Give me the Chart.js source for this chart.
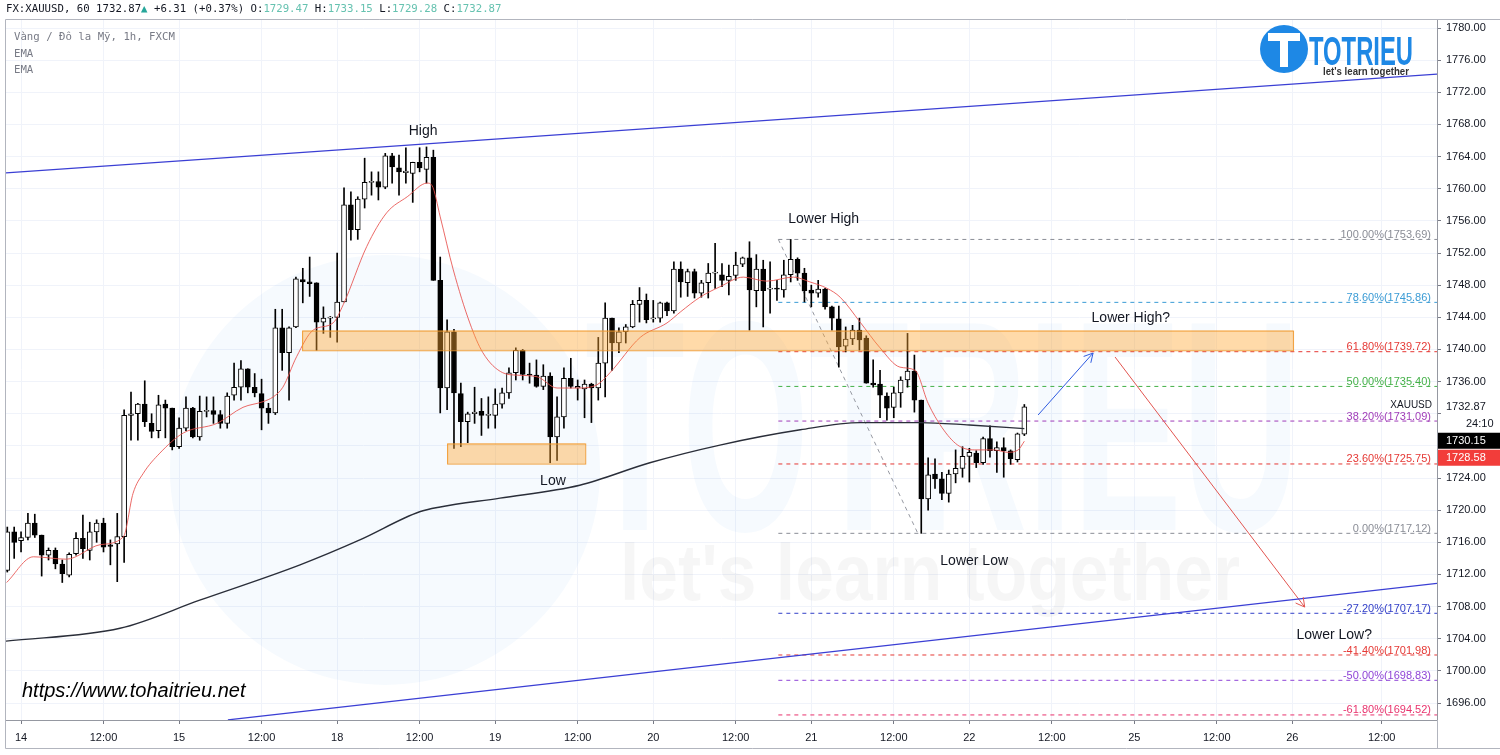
<!DOCTYPE html>
<html>
<head>
<meta charset="utf-8">
<script src="https://cdn.jsdelivr.net/npm/chart.js@4.4.1/dist/chart.umd.min.js"></script>
<style>
  html, body { margin: 0; padding: 0; background: #fff; }
  #wrap { width: 1500px; height: 755px; position: relative; }
</style>
</head>
<body>
<div id="wrap"><canvas id="chart" width="1500" height="755"></canvas></div>
<script>
// Nến giờ XAUUSD (FXCM) – mỗi phần tử là một cây nến, theo thứ tự thời gian
const opens = [
  1712.5,1717.3,1716.2,1716.6,1718.4,1716.9,1714.4,1715.0,1713.3,1711.9,
  1714.6,1716.5,1715.0,1717.3,1718.4,1715.7,1715.8,1716.7,1731.8,1732.0,
  1733.2,1730.8,1729.9,1733.2,1732.7,1727.9,1730.2,1732.7,1729.1,1732.3,
  1732.4,1731.9,1730.8,1734.3,1735.3,1737.6,1735.3,1734.5,1732.7,1732.1,
  1742.7,1739.6,1742.8,1748.7,1748.4,1748.3,1743.4,1743.9,1744.0,1745.9,
  1758.0,1754.9,1758.7,1760.8,1760.9,1760.2,1764.1,1762.6,1762.0,1761.9,
  1763.3,1762.4,1763.9,1748.6,1735.2,1742.2,1734.5,1731.0,1732.0,1732.3,
  1731.8,1731.8,1733.2,1734.6,1737.1,1739.9,1736.9,1736.8,1735.4,1736.7,
  1729.1,1731.6,1736.4,1735.2,1735.1,1735.7,1735.2,1738.3,1743.9,1740.8,
  1742.2,1742.8,1745.6,1746.1,1743.8,1743.9,1745.8,1744.8,1750.0,1748.3,
  1749.7,1747.0,1748.3,1749.5,1749.3,1748.6,1749.2,1750.6,1751.4,1747.3,
  1750.0,1747.5,1747.6,1747.4,1749.3,1751.2,1749.5,1747.4,1747.0,1747.5,
  1745.3,1743.8,1740.4,1741.3,1742.4,1741.4,1735.8,1735.7,1734.2,1732.8,
  1734.6,1736.2,1737.3,1733.7,1721.4,1724.5,1723.9,1722.1,1724.5,1725.2,
  1726.7,1727.1,1725.9,1728.9,1727.4,1727.8,1727.4,1726.3,1729.47
];
const highs = [
  1717.9,1717.9,1717.3,1719.6,1719.5,1716.9,1715.3,1715.3,1713.8,1714.7,
  1717.2,1719.4,1718.5,1718.8,1719.0,1716.3,1719.6,1732.5,1734.7,1733.3,
  1736.1,1732.0,1734.3,1733.7,1732.7,1731.5,1734.1,1732.8,1734.2,1734.1,
  1734.1,1732.4,1734.6,1738.3,1738.6,1737.6,1737.0,1736.3,1733.3,1745.0,
  1745.0,1742.8,1749.0,1750.1,1751.5,1748.3,1745.3,1744.1,1752.0,1760.1,
  1759.6,1759.0,1763.8,1762.1,1762.1,1764.4,1764.4,1764.2,1765.1,1763.3,
  1765.1,1765.2,1764.8,1751.5,1743.7,1742.5,1735.8,1732.2,1735.3,1733.9,
  1734.1,1735.1,1735.2,1737.7,1740.2,1740.0,1738.3,1738.7,1738.1,1737.1,
  1734.1,1737.7,1738.9,1736.2,1736.2,1735.8,1741.5,1745.8,1743.9,1742.7,
  1743.1,1746.1,1747.7,1746.9,1746.1,1745.9,1745.9,1750.9,1750.9,1750.0,
  1750.0,1748.6,1750.7,1753.2,1750.7,1750.5,1752.1,1751.5,1753.4,1751.8,
  1751.1,1750.9,1748.6,1751.1,1753.69,1751.4,1750.1,1748.0,1748.6,1747.6,
  1745.4,1745.4,1742.8,1743.0,1743.9,1741.7,1738.7,1737.4,1734.6,1735.3,
  1736.6,1742.0,1739.3,1733.7,1726.5,1726.4,1724.7,1725.0,1727.5,1727.9,
  1727.7,1727.4,1729.1,1730.5,1728.5,1729.0,1727.5,1729.6,1733.15
];
const lows = [
  1712.3,1714.0,1714.8,1716.3,1716.6,1711.8,1713.8,1712.7,1711.0,1711.7,
  1714.4,1714.0,1713.8,1716.0,1714.8,1713.2,1711.1,1713.5,1728.7,1728.7,
  1730.4,1729.0,1729.0,1729.0,1727.5,1727.7,1729.9,1729.0,1728.7,1731.6,
  1730.8,1730.2,1730.2,1733.7,1733.7,1734.6,1734.1,1730.0,1730.8,1731.9,
  1737.4,1733.7,1742.7,1745.8,1746.6,1739.9,1742.0,1741.5,1740.9,1745.9,
  1753.6,1753.7,1757.6,1759.2,1758.6,1760.0,1760.7,1759.2,1760.7,1758.3,
  1762.1,1760.7,1748.6,1732.1,1732.5,1727.7,1727.9,1728.4,1730.8,1729.3,
  1730.2,1730.2,1732.7,1733.9,1736.2,1736.2,1735.8,1735.3,1735.0,1725.9,
  1726.2,1730.2,1735.2,1733.7,1731.5,1730.9,1733.7,1734.1,1737.4,1739.6,
  1740.8,1742.7,1743.4,1743.3,1743.4,1743.4,1744.2,1744.5,1746.5,1746.6,
  1746.4,1746.5,1746.4,1747.6,1747.8,1746.8,1748.6,1750.3,1742.4,1745.3,
  1742.8,1744.5,1746.1,1746.5,1748.4,1748.6,1745.9,1745.3,1746.5,1745.0,
  1742.4,1737.8,1739.7,1740.6,1739.9,1735.8,1735.3,1731.5,1731.2,1731.5,
  1732.8,1735.3,1732.2,1717.12,1720.0,1722.7,1721.3,1721.0,1723.4,1724.1,
  1723.5,1725.3,1725.7,1726.6,1724.7,1724.1,1725.7,1726.0,1729.28
];
const closes = [
  1717.3,1716.0,1716.6,1718.4,1716.9,1714.4,1715.0,1713.3,1712.1,1714.5,
  1716.5,1715.2,1717.3,1718.4,1715.4,1715.5,1716.7,1731.8,1732.0,1733.2,
  1731.0,1729.8,1733.1,1732.7,1727.9,1730.2,1732.7,1729.1,1732.3,1732.4,
  1731.9,1730.8,1734.2,1735.3,1737.6,1735.3,1734.6,1732.7,1732.1,1742.7,
  1739.6,1742.7,1748.8,1748.4,1748.2,1743.4,1743.9,1744.0,1745.9,1758.0,
  1754.9,1758.7,1760.8,1760.9,1760.2,1764.1,1762.7,1762.1,1762.2,1763.3,
  1762.6,1763.9,1748.6,1735.2,1742.2,1734.6,1731.0,1732.0,1732.2,1731.8,
  1731.9,1733.2,1734.6,1737.1,1739.9,1736.9,1736.8,1735.4,1736.7,1729.1,
  1731.6,1736.4,1735.4,1735.4,1735.7,1735.2,1738.3,1743.9,1740.8,1742.2,
  1742.8,1745.6,1746.1,1743.7,1743.9,1745.8,1744.8,1750.0,1748.4,1749.7,
  1747.0,1748.3,1749.5,1749.6,1748.6,1749.1,1750.5,1751.4,1747.4,1750.0,
  1747.3,1747.6,1747.5,1749.3,1751.2,1749.5,1747.3,1747.0,1747.5,1745.3,
  1743.9,1740.3,1741.3,1742.4,1741.2,1735.8,1735.6,1734.3,1732.7,1734.6,
  1736.2,1737.3,1733.7,1721.4,1724.4,1723.9,1722.1,1724.5,1725.2,1726.7,
  1727.2,1725.9,1728.9,1727.4,1727.8,1727.4,1726.4,1729.5,1732.87
];

// Đường EMA nhanh (đỏ) và EMA chậm (đen): [chỉ số nến, giá]
const emaFast = [
  [-0.1,1711.0],[3.8,1714.2],[8.6,1713.9],[13.5,1715.7],[16.9,1716.7],[18.3,1722.1],
  [19.8,1724.6],[22.2,1727.1],[25.6,1729.6],[30.5,1730.8],[34.3,1732.8],[37.2,1733.5],
  [38.7,1734.1],[40.1,1735.3],[42.1,1739.1],[44.5,1742.4],[47.4,1743.3],[48.9,1745.6],
  [52.3,1752.8],[55.2,1757.0],[58.2,1759.0],[61.1,1760.7],[61.8,1760.4],[63,1756.5],
  [64.9,1749.9],[67.3,1743.3],[69.2,1739.6],[72.1,1737.1],[74.2,1736.8],[77.1,1736.6],
  [80,1735.2],[82.9,1735.2],[85.8,1735.6],[87.7,1737.1],[92.1,1741.5],[96,1743.3],
  [98,1744.7],[100.8,1746.5],[103.7,1747.8],[107.1,1749.0],[110.5,1748.5],[114.4,1749.0],
  [116.8,1748.4],[119.3,1747.6],[121.2,1746.5],[124.1,1743.4],[127,1740.2],[129.9,1737.8],
  [132.1,1737.4],[134,1733.3],[136,1730.3],[138.3,1728.1],[140.7,1727.5],[143.6,1727.5],
  [145.6,1727.2],[147.1,1727.5],[148,1728.58]
];
const emaSlow = [
  [-0.2,1703.7],[16.4,1705.3],[28,1708.8],[42.6,1713.2],[51.3,1716.3],[60,1719.8],
  [63,1720.4],[71.7,1721.5],[83.3,1723.1],[93.5,1725.9],[103.7,1728.1],[115.4,1730.0],
  [124.1,1730.9],[132.8,1730.9],[140,1730.6],[148,1730.15]
];

// Trục
const xMin = -0.19, xMax = 208.05;
const yMin = 1693.89, yMax = 1781.12;
const xTickPos = [2, 14, 25, 37, 48, 60, 71, 83, 94, 106, 117, 129, 140, 152, 164, 176, 187, 200];
const xTickLabels = ['14','12:00','15','12:00','18','12:00','19','12:00','20','12:00','21','12:00','22','12:00','25','12:00','26','12:00'];
const yTicks = [];
for (let v = 1696; v <= 1780; v += 4) yTicks.push(v);

// Fibonacci
const fibPct = ['100.00%','78.60%','61.80%','50.00%','38.20%','23.60%','0.00%','-27.20%','-41.40%','-50.00%','-61.80%'];
const fibVal = [1753.69,1745.86,1739.72,1735.40,1731.09,1725.75,1717.12,1707.17,1701.98,1698.83,1694.52];
const fibColor = ['#8a8d96','#3a9bd5','#e53935','#43b047','#a03cb8','#e53935','#8a8d96','#3340c8','#e53935','#8e44d6','#e8336d'];
const fibStart = 112.2;
const fibAnchor = [[112.2,1753.69],[132.5,1717.12]];

// Kênh giá, vùng hỗ trợ/kháng cự, mũi tên, ghi chú
const channelUpper = [[-0.19,1761.96],[208.05,1774.27]];
const channelLower = [[32.1,1693.9],[208.05,1710.9]];
const zones = [
  { x0: 42.9, x1: 187.1, y0: 1739.9, y1: 1742.35 },
  { x0: 64.0, x1: 84.1, y0: 1725.8, y1: 1728.3 }
];
const arrows = [
  { pts: [[150,1731.84],[158,1739.55]], color: '#2f5be0' },
  { pts: [[161.2,1739.06],[188.8,1707.94]], color: '#e25550' }
];
const notes = [
  { text: 'High', x: 60.5, y: 1767.2 },
  { text: 'Low', x: 79.4, y: 1723.6 },
  { text: 'Lower High', x: 118.8, y: 1756.2 },
  { text: 'Lower Low', x: 140.7, y: 1713.7 },
  { text: 'Lower High?', x: 163.5, y: 1743.9 },
  { text: 'Lower Low?', x: 193.1, y: 1704.5 }
];

const toPts = arr => arr.map(p => ({ x: p[0], y: p[1] }));

// Vẽ nến bằng floating bar: một dataset cho râu, một cho thân
const wickData = opens.map((o, i) => ({ x: i, y: [lows[i], highs[i]] }));
const bodyData = opens.map((o, i) => ({ x: i, y: [o, closes[i]] }));
const bodyColors = opens.map((o, i) => closes[i] >= o ? '#ffffff' : '#000000');

const datasets = [];
fibVal.forEach((v, k) => {
  datasets.push({
    type: 'line', data: [{ x: fibStart, y: v }, { x: xMax, y: v }],
    borderColor: fibColor[k], borderWidth: 1, borderDash: [4, 4], pointRadius: 0, order: 6
  });
});
datasets.push({ type: 'line', data: toPts(fibAnchor), borderColor: '#9598a1', borderWidth: 1, borderDash: [4, 4], pointRadius: 0, order: 6 });
datasets.push({ type: 'bar', data: wickData, backgroundColor: '#000', barThickness: 1, grouped: false, order: 5 });
datasets.push({
  type: 'bar', data: bodyData, backgroundColor: bodyColors, borderColor: '#000', borderWidth: 1,
  borderSkipped: false, barThickness: 5, minBarLength: 1, grouped: false, order: 4
});
datasets.push({ type: 'line', data: toPts(emaSlow), borderColor: '#2a2e39', borderWidth: 1.4, pointRadius: 0, cubicInterpolationMode: 'monotone', order: 3 });
datasets.push({ type: 'line', data: toPts(emaFast), borderColor: 'rgba(232,80,76,0.85)', borderWidth: 1, pointRadius: 0, cubicInterpolationMode: 'monotone', order: 2 });
datasets.push({ type: 'line', data: toPts(channelUpper), borderColor: '#3b3fd4', borderWidth: 1.2, pointRadius: 0, order: 1 });
datasets.push({ type: 'line', data: toPts(channelLower), borderColor: '#3b3fd4', borderWidth: 1.2, pointRadius: 0, order: 1 });
arrows.forEach(a => {
  datasets.push({ type: 'line', data: toPts(a.pts), borderColor: a.color, borderWidth: 1, pointRadius: 0, order: 1 });
});

const SANS = '"Liberation Sans", Arial, sans-serif';
const MONO = '"DejaVu Sans Mono", monospace';

// Plugin vẽ phần trang trí: watermark, vùng cam, nhãn fib, chữ, header
const overlay = {
  id: 'overlay',
  beforeDatasetsDraw(chart) {
    const { ctx, chartArea: a } = chart;
    ctx.save();
    ctx.beginPath(); ctx.rect(a.left, a.top, a.width, a.height); ctx.clip();
    ctx.fillStyle = 'rgba(33,130,225,0.04)';
    ctx.beginPath(); ctx.arc(385, 470, 215, 0, Math.PI * 2); ctx.fill();
    ctx.font = 'bold 300px ' + SANS;
    ctx.textBaseline = 'alphabetic';
    let w = ctx.measureText('TOTRIEU').width;
    ctx.save(); ctx.translate(585, 530); ctx.scale(715 / w, 1);
    ctx.fillText('TOTRIEU', 0, 0); ctx.restore();
    ctx.fillStyle = 'rgba(0,0,0,0.035)';
    ctx.font = 'bold 80px ' + SANS;
    w = ctx.measureText("let's learn together").width;
    ctx.save(); ctx.translate(620, 600); ctx.scale(620 / w, 1);
    ctx.fillText("let's learn together", 0, 0); ctx.restore();
    ctx.restore();
  },
  afterDatasetsDraw(chart) {
    const { ctx, chartArea: a, scales: { x, y } } = chart;
    ctx.save();
    ctx.beginPath(); ctx.rect(a.left, a.top, a.width, a.height); ctx.clip();
    zones.forEach(z => {
      const x0 = x.getPixelForValue(z.x0), x1 = x.getPixelForValue(z.x1);
      const y0 = y.getPixelForValue(z.y1), y1 = y.getPixelForValue(z.y0);
      ctx.fillStyle = 'rgba(255,168,50,0.42)';
      ctx.fillRect(x0, y0, x1 - x0, y1 - y0);
      ctx.strokeStyle = 'rgba(240,150,40,0.9)';
      ctx.lineWidth = 1;
      ctx.strokeRect(x0 + 0.5, y0 + 0.5, x1 - x0, y1 - y0);
    });
    // nhãn fib
    ctx.font = '11px ' + SANS;
    ctx.textAlign = 'right';
    ctx.textBaseline = 'bottom';
    fibVal.forEach((v, k) => {
      ctx.fillStyle = fibColor[k];
      ctx.fillText(fibPct[k] + '(' + v.toFixed(2) + ')', a.right - 6, y.getPixelForValue(v) + 1);
    });
    // đầu mũi tên
    arrows.forEach(ar => {
      const p0 = ar.pts[ar.pts.length - 2], p1 = ar.pts[ar.pts.length - 1];
      const xa = x.getPixelForValue(p0[0]), ya = y.getPixelForValue(p0[1]);
      const xb = x.getPixelForValue(p1[0]), yb = y.getPixelForValue(p1[1]);
      const ang = Math.atan2(yb - ya, xb - xa);
      ctx.strokeStyle = ar.color; ctx.lineWidth = 1;
      ctx.beginPath();
      ctx.moveTo(xb - 10 * Math.cos(ang - 0.5), yb - 10 * Math.sin(ang - 0.5));
      ctx.lineTo(xb, yb);
      ctx.lineTo(xb - 10 * Math.cos(ang + 0.5), yb - 10 * Math.sin(ang + 0.5));
      ctx.stroke();
    });
    // ghi chú
    ctx.font = '14px ' + SANS;
    ctx.fillStyle = '#131722';
    ctx.textAlign = 'center';
    ctx.textBaseline = 'middle';
    notes.forEach(n => ctx.fillText(n.text, x.getPixelForValue(n.x), y.getPixelForValue(n.y)));
    // url
    ctx.font = 'italic 20px ' + SANS;
    ctx.textAlign = 'left';
    ctx.fillStyle = '#000';
    ctx.fillText('https://www.tohaitrieu.net', 22, 691);
    // legend
    ctx.font = '10.7px ' + MONO;
    ctx.fillStyle = '#787b86';
    ctx.fillText('Vàng / Đô la Mỹ, 1h, FXCM', 14, 37);
    ctx.fillText('EMA', 14, 54);
    ctx.fillText('EMA', 14, 70);
    // logo góc phải
    ctx.fillStyle = '#1e88e5';
    ctx.beginPath(); ctx.arc(1284, 49, 24, 0, Math.PI * 2); ctx.fill();
    ctx.fillStyle = '#fff';
    ctx.fillRect(1268, 33, 32, 8);
    ctx.fillRect(1280, 33, 8, 34);
    ctx.fillStyle = '#1e88e5';
    ctx.font = 'bold 40px ' + SANS;
    ctx.textBaseline = 'alphabetic';
    let w = ctx.measureText('TOTRIEU').width;
    ctx.save(); ctx.translate(1309, 65); ctx.scale(104 / w, 1); ctx.fillText('TOTRIEU', 0, 0); ctx.restore();
    ctx.fillStyle = '#333';
    ctx.font = 'bold 11px ' + SANS;
    w = ctx.measureText("let's learn together").width;
    ctx.save(); ctx.translate(1323, 75); ctx.scale(86 / w, 1); ctx.fillText("let's learn together", 0, 0); ctx.restore();
    ctx.restore();
  },
  afterDraw(chart) {
    const { ctx, chartArea: a, scales: { y } } = chart;
    ctx.save();
    // khung
    ctx.strokeStyle = '#b2b5be'; ctx.lineWidth = 1;
    ctx.beginPath();
    ctx.moveTo(5.5, 19.5); ctx.lineTo(1500, 19.5);
    ctx.moveTo(5.5, 19.5); ctx.lineTo(5.5, 748.5); ctx.lineTo(1500, 748.5);
    ctx.moveTo(a.right + 0.5, a.bottom); ctx.lineTo(a.right + 0.5, 748.5);
    ctx.stroke();
    // header
    ctx.font = '10.7px ' + MONO;
    ctx.textBaseline = 'middle';
    ctx.textAlign = 'left';
    const parts = [
      ['FX:XAUUSD, 60 1732.87', '#131722'], ['▲', '#26a69a'], [' +6.31 (+0.37%) O:', '#131722'],
      ['1729.47', '#66c2b0'], [' H:', '#131722'], ['1733.15', '#66c2b0'], [' L:', '#131722'],
      ['1729.28', '#66c2b0'], [' C:', '#131722'], ['1732.87', '#66c2b0']
    ];
    let cx = 6;
    parts.forEach(p => { ctx.fillStyle = p[1]; ctx.fillText(p[0], cx, 9); cx += ctx.measureText(p[0]).width; });
    // nhãn trên trục giá
    const yLast = y.getPixelForValue(closes[closes.length - 1]);
    ctx.font = '11px ' + SANS;
    ctx.fillStyle = '#131722';
    ctx.fillText(closes[closes.length - 1].toFixed(2), 1446, yLast);
    ctx.fillText('24:10', 1466, yLast + 17);
    ctx.font = '10px ' + SANS;
    ctx.textAlign = 'right';
    ctx.fillText('XAUUSD', 1432, yLast - 1);
    ctx.textAlign = 'left';
    ctx.font = '11px ' + SANS;
    ctx.fillStyle = '#000';
    ctx.fillRect(a.right + 1, yLast + 26, 62, 16);
    ctx.fillStyle = '#fff';
    ctx.fillText(emaSlow[emaSlow.length - 1][1].toFixed(2), 1446, yLast + 34);
    ctx.fillStyle = '#f23d3a';
    ctx.fillRect(a.right + 1, yLast + 43, 62, 16);
    ctx.fillStyle = '#fff';
    ctx.fillText(emaFast[emaFast.length - 1][1].toFixed(2), 1446, yLast + 51);
    ctx.restore();
  }
};

new Chart(document.getElementById('chart'), {
  type: 'bar',
  data: { datasets },
  plugins: [overlay],
  options: {
    responsive: false,
    animation: false,
    devicePixelRatio: 1,
    layout: { padding: { left: 6, top: 19, right: 0, bottom: 0 } },
    plugins: { legend: { display: false }, tooltip: { enabled: false } },
    scales: {
      x: {
        type: 'linear', min: xMin, max: xMax, offset: false,
        afterBuildTicks: s => { s.ticks = xTickPos.map(v => ({ value: v })); },
        afterFit: s => { s.height = 35; },
        grid: { color: '#f0f3fa', offset: false, tickLength: 4, tickColor: '#787b86' },
        border: { color: '#9598a1' },
        ticks: {
          autoSkip: false, maxRotation: 0, padding: 7,
          color: '#131722', font: { size: 11, family: SANS },
          callback: v => xTickLabels[xTickPos.indexOf(v)]
        }
      },
      y: {
        type: 'linear', position: 'right', min: yMin, max: yMax,
        afterBuildTicks: s => { s.ticks = yTicks.map(v => ({ value: v })); },
        afterFit: s => { s.width = 63; },
        grid: { color: '#f0f3fa', tickLength: 4, tickColor: '#787b86' },
        border: { color: '#9598a1' },
        ticks: {
          padding: 5, color: '#131722', font: { size: 11, family: SANS },
          callback: v => (v === 1732 || v === 1728) ? '' : v.toFixed(2)
        }
      }
    }
  }
});
</script>
</body>
</html>
